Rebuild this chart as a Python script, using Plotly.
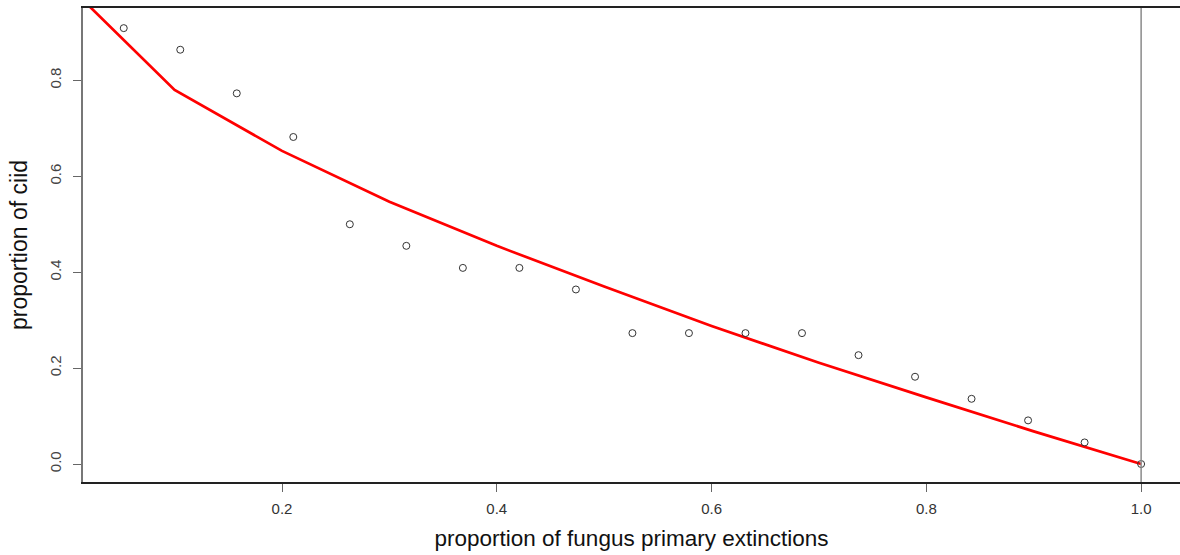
import plotly.graph_objects as go

# Observed points (proportion of fungus primary extinctions vs proportion of ciid)
point_x = [k / 19 for k in range(1, 20)]
point_y = [0.909, 0.864, 0.773, 0.682, 0.500, 0.455, 0.409, 0.409, 0.364,
           0.273, 0.273, 0.273, 0.273, 0.227, 0.182, 0.136, 0.091, 0.045, 0.0]

# Fitted curve (red line)
line_x = [0.0, 0.1, 0.2, 0.3, 0.4, 0.5, 0.6, 0.7, 0.8, 0.9, 1.0]
line_y = [1.0, 0.78, 0.653, 0.547, 0.455, 0.370, 0.288, 0.211, 0.139, 0.068, 0.0]

x_ticks = [0.2, 0.4, 0.6, 0.8, 1.0]
x_ticklabels = ["0.2", "0.4", "0.6", "0.8", "1.0"]
y_ticks = [0.0, 0.2, 0.4, 0.6, 0.8]
y_ticklabels = ["0.0", "0.2", "0.4", "0.6", "0.8"]

fig = go.Figure()

fig.add_trace(go.Scatter(
    x=line_x, y=line_y, mode="lines",
    line=dict(color="#ff0000", width=2.7),
    hoverinfo="skip", showlegend=False, cliponaxis=True,
))

fig.add_trace(go.Scatter(
    x=point_x, y=point_y, mode="markers",
    marker=dict(symbol="circle-open", size=7, color="#333333",
                line=dict(width=1, color="#333333")),
    showlegend=False, cliponaxis=False,
))

fig.add_vline(x=1.0, line=dict(color="#8a8a8a", width=1.5))

font_family = "Liberation Sans, Arial, sans-serif"

fig.update_layout(
    width=1180, height=555,
    margin=dict(l=83, r=0, t=8, b=73),
    paper_bgcolor="white", plot_bgcolor="white",
    font=dict(family=font_family, color="#333333"),
    xaxis=dict(
        range=[0.0147, 1.0362], showgrid=False, zeroline=False,
        showline=True, linecolor="#222222", linewidth=1.5, mirror=True,
        ticks="outside", ticklen=8, tickwidth=1, tickcolor="#666666",
        tickvals=x_ticks, ticktext=x_ticklabels, ticklabelstandoff=4,
        tickfont=dict(size=15, color="#333333"),
        title=dict(text="proportion of fungus primary extinctions",
                   font=dict(size=22.5, color="#111111"), standoff=14),
    ),
    yaxis=dict(
        range=[-0.0375, 0.951], showgrid=False, zeroline=False,
        showline=True, linecolor="#777777", linewidth=1.5, mirror=False,
        ticks="outside", ticklen=8, tickwidth=1, tickcolor="#666666",
        tickvals=y_ticks, ticktext=y_ticklabels, tickangle=-90,
        ticklabelstandoff=6,
        tickfont=dict(size=15, color="#444444"),
        title=dict(text="proportion of ciid",
                   font=dict(size=23, color="#111111"), standoff=13),
    ),
)

fig.write_html("out.html")
